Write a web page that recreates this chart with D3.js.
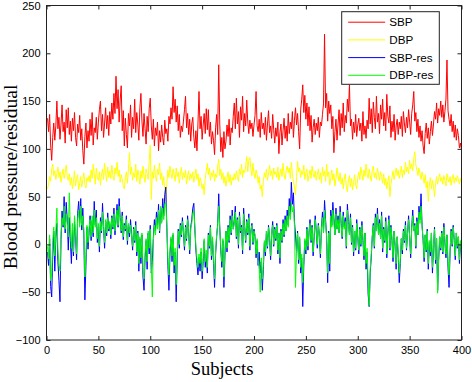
<!DOCTYPE html>
<html>
<head>
<meta charset="utf-8">
<script src="https://cdn.jsdelivr.net/npm/d3@7"></script>
<style>
  body { margin: 0; background: #fff; }
  .tick text { font-family: Arial, 'Liberation Sans', sans-serif; font-size: 11px; fill: #000; }
</style>
</head>
<body>
<div class="chart"></div>
<script>
// values, one per subject (1..400)
const sbp = [
  132, 118, 136, 104, 88, 112, 127, 109, 124, 150, 121, 133, 110, 126, 146, 118, 128, 106, 141, 122,
  143, 115, 129, 108, 132, 119, 138, 112, 103, 126, 117, 135, 109, 121, 98, 84, 113, 127, 101, 119,
  108, 131, 114, 138, 104, 122, 117, 133, 110, 128, 141, 150, 119, 136, 112, 127, 143, 121, 135, 114,
  139, 126, 148, 131, 158, 137, 176, 142, 162, 128, 151, 166, 119, 140, 103, 132, 115, 101, 137, 124,
  146, 112, 133, 121, 152, 117, 138, 126, 109, 143, 158, 129, 113, 137, 121, 105, 134, 118, 142, 153,
  124, 110, 131, 103, 122, 114, 128, 98, 119, 107, 125, 112, 104, 130, 116, 121, 108, 134, 126, 143,
  131, 165, 138, 152, 128, 145, 119, 136, 112, 124, 118, 129, 141, 155, 122, 137, 115, 131, 108, 126,
  133, 112, 101, 119, 98, 127, 160, 121, 134, 110, 125, 137, 116, 142, 120, 141, 113, 128, 105, 118,
  109, 94, 122, 136, 115, 188, 126, 97, 112, 91, 118, 100, 108, 125, 113, 131, 104, 122, 117, 134,
  148, 121, 153, 126, 139, 112, 144, 130, 155, 118, 137, 124, 151, 128, 116, 130, 121, 127, 113, 125,
  135, 160, 124, 118, 131, 112, 138, 121, 127, 115, 133, 109, 126, 140, 117, 124, 111, 136, 120, 106,
  122, 113, 128, 95, 117, 126, 104, 119, 132, 111, 124, 108, 137, 116, 128, 121, 139, 112, 130, 143,
  125, 137, 118, 100, 141, 152, 167, 138, 156, 131, 148, 124, 144, 119, 135, 107, 122, 131, 115, 127,
  119, 133, 112, 128, 124, 136, 147, 220, 143, 158, 129, 150, 137, 146, 121, 134, 96, 118, 131, 109,
  126, 141, 114, 137, 122, 148, 118, 135, 127, 152, 139, 167, 124, 131, 110, 128, 117, 136, 113, 125,
  132, 119, 127, 108, 139, 115, 124, 111, 130, 121, 153, 126, 142, 117, 149, 133, 121, 155, 128, 137,
  116, 146, 131, 152, 124, 138, 119, 157, 134, 127, 145, 112, 129, 118, 136, 109, 124, 131, 115, 128,
  121, 134, 113, 139, 126, 117, 133, 122, 141, 128, 115, 137, 146, 160, 129, 138, 118, 131, 112, 124,
  108, 119, 103, 95, 116, 127, 111, 122, 105, 118, 129, 114, 126, 139, 131, 148, 127, 142, 135, 150,
  133, 146, 128, 139, 152, 193, 140, 131, 124, 136, 118, 129, 112, 125, 109, 121, 114, 101, 106, 99,
];

const dbp = [
  58, 63, 71, 66, 79, 84, 72, 77, 68, 74, 81, 70, 76, 65, 73, 79, 69, 75, 83, 71,
  67, 74, 62, 70, 58, 66, 77, 61, 69, 73, 57, 64, 71, 60, 68, 75, 63, 59, 70, 66,
  72, 65, 78, 69, 84, 74, 63, 80, 71, 67, 76, 62, 73, 79, 68, 85, 74, 66, 81, 70,
  77, 69, 83, 72, 67, 80, 74, 86, 71, 78, 65, 73, 68, 62, 58, 70, 76, 64, 79, 96,
  73, 81, 67, 75, 70, 84, 66, 78, 72, 63, 77, 69, 82, 71, 65, 79, 74, 68, 88, 104,
  47, 76, 69, 83, 72, 66, 79, 73, 85, 68, 75, 62, 71, 56, 45, 64, 78, 70, 82, 74,
  69, 79, 73, 66, 80, 71, 76, 64, 74, 81, 68, 75, 70, 78, 63, 72, 77, 67, 74, 69,
  76, 65, 72, 79, 68, 74, 61, 70, 66, 58, 63, 52, 69, 77, 85, 73, 80, 67, 75, 71,
  78, 66, 74, 70, 82, 89, 72, 79, 68, 75, 64, 71, 61, 69, 76, 65, 73, 62, 70, 67,
  74, 68, 77, 71, 66, 79, 73, 84, 70, 78, 75, 82, 92, 76, 88, 91, 79, 72, 85, 74,
  69, 78, 73, 64, 71, 58, 62, 50, 66, 75, 70, 79, 67, 74, 83, 72, 77, 68, 80, 73,
  76, 70, 81, 67, 74, 79, 71, 85, 73, 68, 77, 82, 75, 80, 69, 86, 74, 65, 60, 52,
  71, 87, 76, 80, 70, 77, 73, 83, 68, 75, 79, 66, 72, 78, 69, 82, 74, 70, 77, 67,
  73, 79, 68, 75, 64, 81, 72, 77, 66, 84, 71, 76, 62, 70, 78, 67, 74, 61, 69, 80,
  72, 66, 75, 63, 70, 58, 68, 74, 61, 55, 67, 72, 60, 69, 57, 65, 73, 62, 58, 70,
  76, 68, 81, 73, 67, 78, 71, 84, 74, 69, 79, 72, 66, 77, 82, 70, 75, 68, 80, 73,
  67, 76, 71, 64, 74, 62, 69, 58, 66, 72, 50, 63, 70, 77, 68, 74, 80, 72, 78, 69,
  75, 82, 70, 78, 73, 86, 76, 81, 74, 88, 79, 84, 77, 90, 97, 83, 78, 72, 80, 74,
  68, 76, 71, 64, 73, 59, 66, 45, 62, 70, 58, 67, 61, 50, 64, 71, 63, 69, 74, 66,
  70, 63, 72, 67, 61, 74, 68, 65, 71, 62, 69, 73, 64, 70, 66, 72, 68, 63, 69, 65,
];

const sbpRes = [
  -8, -22, 6, -44, -55, -12, 14, -28, 8, 22, -18, -38, -60, 5, 35, 18, 50, 12, 44, 26,
  -6, 28, 4, -20, 15, -12, 24, 8, -16, 32, 45, 22, 48, 15, 38, 10, -58, -22, 18, -5,
  12, 30, 4, 25, 8, 45, 20, 36, 2, 18, -8, 28, 12, 43, 16, -4, 24, 9, 33, 14,
  22, 6, 30, 16, 38, 10, 26, 42, 18, 48, 28, 12, 34, 5, 22, 14, 30, 0, 20, 8,
  26, 10, -6, 18, 2, 24, -12, 14, -28, 6, -20, 10, -34, -48, -14, 4, -26, 12, -10, 20,
  -30, -18, 8, 26, 14, 34, 20, 42, 12, 38, 24, 48, 30, 52, 60, 18, -22, -48, -10, 6,
  -18, 10, -30, -8, -60, -14, 16, -4, 22, 8, 28, 12, -6, 20, 4, 30, 14, -10, 18, 26,
  38, 43, 16, -6, -20, -32, -14, -28, -8, -36, -18, 4, -24, -10, -30, 12, -4, 20, -16, 6,
  -20, -45, -10, 8, 22, 53, 18, -6, -24, 4, -45, -12, 14, -8, 20, 2, 30, 10, 36, 16,
  24, 40, 6, 28, -4, 34, 12, 20, -10, 38, 18, 2, 26, 10, 32, -6, 14, 22, 0, 16,
  8, -14, 4, -22, -8, -30, -18, -48, -26, 2, -12, 14, -4, 20, 6, -16, 10, 24, -2, 18,
  4, 22, -10, 12, -20, 16, 2, 26, 8, 30, 14, 36, 20, 48, 30, 65, 42, 54, 24, 10,
  -8, 14, -20, 6, -30, -14, -65, -22, 4, -10, 18, -6, 12, 26, 2, 20, -12, 8, 30, 14,
  -4, 22, 10, -14, 18, 34, 12, 46, 26, 8, -40, 14, -28, 36, 20, 44, 28, 10, 38, 16,
  30, 12, 40, 22, 6, 34, 18, 28, -4, 42, 24, 10, 32, 0, 20, -12, 14, -6, 26, 8,
  -10, 18, -2, 24, 4, -16, 12, -26, -8, -52, -65, -30, -14, 8, 22, -4, 32, 14, 38, 10,
  26, 6, 34, -8, 18, 2, 28, -14, 12, 30, -6, 20, 4, -18, 14, -2, -26, 8, -12, -40,
  -20, 6, -10, 16, 2, 24, -6, 12, 30, 8, -14, 18, 36, 14, 22, -4, 28, 10, 40, 26,
  53, 20, 4, -18, 10, -8, 16, -26, 2, -12, 12, -30, -4, 18, -20, 6, -48, -16, 8, -6,
  14, -10, 22, 2, -14, 10, -24, -45, -8, 16, -2, 20, 4, -16, 12, -4, 8, -20, 2, -10,
];

const dbpRes = [
  -2, -15, 10, -38, -30, 4, 18, -12, 14, 38, -6, -20, -28, 12, 28, 20, 40, 16, 32, 22,
  8, 54, 16, -4, 22, -8, 30, 12, -10, 26, 36, 18, 40, 20, 30, 14, -34, -12, 20, 2,
  16, 26, 8, 30, 12, 36, 18, 28, 6, 22, -2, 24, 14, 34, 18, 2, 26, 12, 28, 16,
  24, 10, 28, 18, 32, 14, 24, 36, 20, 40, 26, 14, 30, 8, 20, 16, 26, 4, 22, 12,
  20, 8, -2, 16, 4, 20, -8, 12, -20, 8, -14, 12, -24, -36, -10, 6, -18, 14, -4, 16,
  -20, -55, 4, 20, 10, 28, 16, 36, 14, 40, 22, 38, 26, 42, 44, 20, -14, -32, -6, 8,
  -12, 12, -22, -4, -42, -8, 14, 0, 20, 10, 24, 14, -2, 18, 6, 26, 16, -6, 16, 22,
  32, 36, 18, -2, -14, -24, -10, -20, -4, -28, -14, 6, -18, -6, -24, 10, -2, 18, -12, 8,
  -14, -36, -6, 10, 20, 40, 16, -2, -18, 6, -34, -8, 14, -4, 18, 4, 26, 12, 30, 16,
  22, 34, 8, 26, 0, 30, 14, 18, -6, 32, 16, 4, 24, 12, 28, -2, 14, 20, 2, 14,
  10, -10, 6, -16, -26, -50, -14, -36, -20, 4, -8, 14, -2, 18, 8, -12, 12, 20, 0, 16,
  6, 20, -6, 12, -14, 14, 4, 22, 10, 26, 14, 30, 18, 40, 26, 44, 34, 40, 20, -45,
  -6, 12, -16, 8, -24, -10, -40, -18, 6, -6, 16, -2, 12, 22, 4, 18, -8, 10, 26, 14,
  0, 20, 10, -10, 16, 28, 12, 36, 22, 8, -30, 12, -20, 30, 18, 36, 24, 10, 32, 16,
  26, 12, 34, 20, 8, 30, 16, 24, -2, 36, 22, 10, 28, 2, 18, -8, 14, -4, 22, 8,
  -6, 16, 0, 20, 6, -12, 12, -20, -4, -40, -64, -26, -10, 8, 20, -2, 28, 14, 32, 10,
  22, 6, 30, -4, 16, 4, 24, -10, 12, 26, -4, 18, 6, -14, 14, 0, -20, 8, -8, -30,
  -16, 6, -6, 14, 4, 20, -4, 12, 26, 8, -10, 16, 30, 14, 20, -2, 24, 10, 34, 22,
  40, 18, 6, -14, 10, -6, 14, -20, 4, -8, 12, -24, -2, 16, -16, 6, -51, -12, 8, -4,
  12, -8, 18, 4, -10, 10, -18, -32, -6, 14, 0, 18, 6, -12, 12, -2, 8, -16, 4, -6,
];

const seriesNames = ['SBP', 'DBP', 'SBP-res', 'DBP-res'];
const seriesColors = ['#ff0000', '#ffff00', '#0000ff', '#00ff00'];
const xTicks = [0, 50, 100, 150, 200, 250, 300, 350, 400];
const yTicks = [-100, -50, 0, 50, 100, 150, 200, 250];

function drawChart() {
  const dimensions = {
    width: 472,
    height: 382,
    margin: { top: 5.5, right: 10.5, bottom: 42, left: 46.5 },
  };
  dimensions.boundedWidth =
    dimensions.width - dimensions.margin.left - dimensions.margin.right;
  dimensions.boundedHeight =
    dimensions.height - dimensions.margin.top - dimensions.margin.bottom;

  const svg = d3
    .select('.chart')
    .append('svg')
    .attr('width', dimensions.width)
    .attr('height', dimensions.height);

  const bounds = svg
    .append('g')
    .attr('transform', `translate(${dimensions.margin.left},${dimensions.margin.top})`);

  const xScale = d3.scaleLinear().domain([0, 400]).range([0, dimensions.boundedWidth]);
  const yScale = d3.scaleLinear().domain([-100, 250]).range([dimensions.boundedHeight, 0]);

  const lineGenerator = d3
    .line()
    .x((d, i) => xScale(i + 1))
    .y((d) => yScale(d));

  const clip = bounds.append('clipPath').attr('id', 'plot-clip');
  clip.append('rect').attr('width', dimensions.boundedWidth).attr('height', dimensions.boundedHeight);

  // lines, in plotting order
  const lines = bounds.append('g').attr('clip-path', 'url(#plot-clip)');
  [sbp, dbp, sbpRes, dbpRes].forEach((values, k) => {
    lines
      .append('path')
      .attr('d', lineGenerator(values))
      .attr('fill', 'none')
      .attr('stroke', seriesColors[k])
      .attr('stroke-width', 1)
      .attr('stroke-linejoin', 'round');
  });

  // axes, ticks pointing inward
  const xAxis = bounds
    .append('g')
    .attr('transform', `translate(0,${dimensions.boundedHeight})`)
    .call(d3.axisBottom(xScale).tickValues(xTicks).tickSizeInner(-4).tickSizeOuter(0).tickPadding(6));
  const yAxis = bounds
    .append('g')
    .call(d3.axisLeft(yScale).tickValues(yTicks).tickSizeInner(-4).tickSizeOuter(0).tickPadding(6));
  bounds
    .append('g')
    .call(d3.axisTop(xScale).tickValues(xTicks).tickSizeInner(-4).tickSizeOuter(0).tickFormat(''));
  bounds
    .append('g')
    .attr('transform', `translate(${dimensions.boundedWidth},0)`)
    .call(d3.axisRight(yScale).tickValues(yTicks).tickSizeInner(-4).tickSizeOuter(0).tickFormat(''));

  bounds.selectAll('.domain').remove();
  bounds.selectAll('.tick line').attr('stroke', '#222');

  // box
  bounds
    .append('rect')
    .attr('width', dimensions.boundedWidth)
    .attr('height', dimensions.boundedHeight)
    .attr('fill', 'none')
    .attr('stroke', '#222')
    .attr('stroke-width', 1);

  // legend
  const legend = bounds.append('g').attr('transform', 'translate(295.2,6.2)');
  legend
    .append('rect')
    .attr('width', 97.6)
    .attr('height', 72.6)
    .attr('fill', '#fff')
    .attr('stroke', '#222')
    .attr('stroke-width', 1);
  seriesNames.forEach((name, k) => {
    const row = legend.append('g').attr('transform', `translate(0,${10.5 + k * 17.7})`);
    row
      .append('line')
      .attr('x1', 6.5)
      .attr('x2', 43.5)
      .attr('stroke', seriesColors[k])
      .attr('stroke-width', 1);
    row
      .append('text')
      .attr('x', 47.5)
      .attr('dy', '0.35em')
      .style('font-family', "Arial, 'Liberation Sans', sans-serif")
      .style('font-size', '11.7px')
      .text(name);
  });

  // axis labels
  svg
    .append('text')
    .attr('x', 222)
    .attr('y', 375)
    .attr('text-anchor', 'middle')
    .style('font-family', "'Times New Roman', 'Liberation Serif', serif")
    .style('font-size', '18.5px')
    .text('Subjects');

  svg
    .append('text')
    .attr('transform', 'translate(16.5,177) rotate(-90)')
    .attr('text-anchor', 'middle')
    .style('font-family', "'Times New Roman', 'Liberation Serif', serif")
    .style('font-size', '19.5px')
    .text('Blood pressure/residual');
}

drawChart();
</script>
</body>
</html>
